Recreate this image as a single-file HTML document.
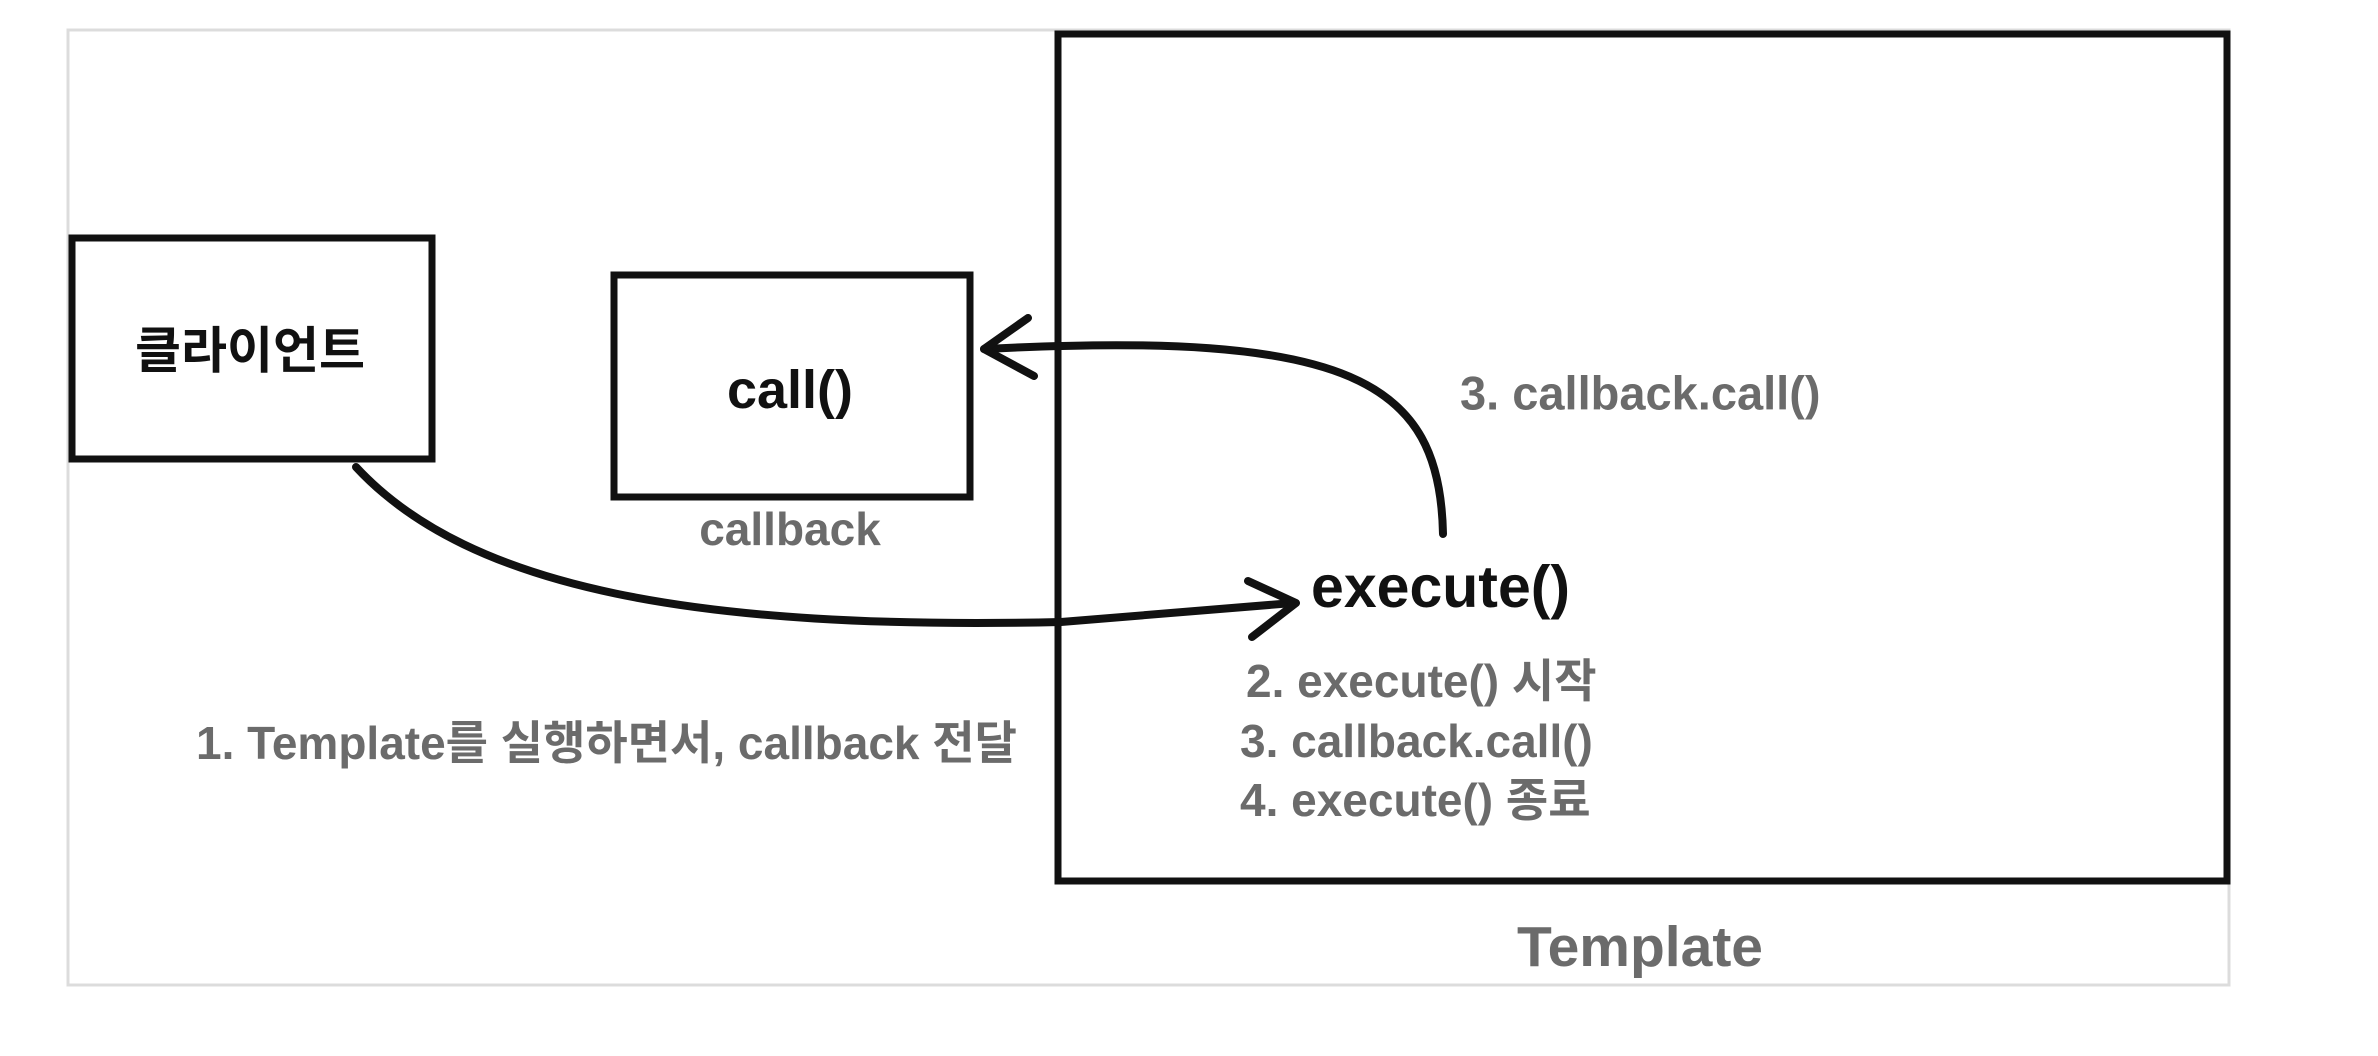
<!DOCTYPE html>
<html><head><meta charset="utf-8"><style>
html,body{margin:0;padding:0;background:#fff;}
body{width:2378px;height:1056px;position:relative;overflow:hidden;font-family:"Liberation Sans","Noto Sans CJK KR",sans-serif;}
.t{position:absolute;white-space:nowrap;font-weight:bold;}
.g{color:#6b6b6b;font-size:46px;}
</style></head><body>
<svg width="2378" height="1056" style="position:absolute;left:0;top:0">
<rect x="68" y="30" width="2161" height="955" fill="none" stroke="#dcdcdc" stroke-width="3"/>
<rect x="1058" y="34" width="1169" height="847" fill="none" stroke="#111" stroke-width="7"/>
<rect x="72" y="238" width="360" height="221" fill="none" stroke="#111" stroke-width="7"/>
<rect x="614" y="275" width="356" height="222" fill="none" stroke="#111" stroke-width="7"/>
<g fill="none" stroke="#111" stroke-width="8" stroke-linecap="round" stroke-linejoin="round">
<path d="M356 467 C 470 590, 700 630, 1061 622 L 1293 603"/>
<path d="M1248 581 L1296 603 L1252 637"/>
<path d="M1443 534 C 1440 380, 1350 330, 984 349"/>
<path d="M1028 318 L984 349 L1034 376"/>
</g>
</svg>
<div class="t" style="left:250px;top:347px;transform:translate(-50%,-50%);font-size:50px;color:#111">클라이언트</div>
<div class="t" style="left:790px;top:390px;transform:translate(-50%,-50%);font-size:54px;color:#111">call()</div>
<div class="t g" style="left:790px;top:529px;transform:translate(-50%,-50%)">callback</div>
<div class="t" style="left:1311px;top:587px;transform:translateY(-50%);font-size:59px;color:#111">execute()</div>
<div class="t g" style="left:1460px;top:393px;transform:translateY(-50%);font-size:47px">3. callback.call()</div>
<div class="t g" style="left:1246px;top:678px;transform:translateY(-50%)">2. execute() 시작</div>
<div class="t g" style="left:1240px;top:741px;transform:translateY(-50%)">3. callback.call()</div>
<div class="t g" style="left:1240px;top:797px;transform:translateY(-50%)">4. execute() 종료</div>
<div class="t g" style="left:196px;top:740px;transform:translateY(-50%)">1. Template를 실행하면서, callback 전달</div>
<div class="t g" style="left:1640px;top:947px;transform:translate(-50%,-50%);font-size:57px">Template</div>
</body></html>
